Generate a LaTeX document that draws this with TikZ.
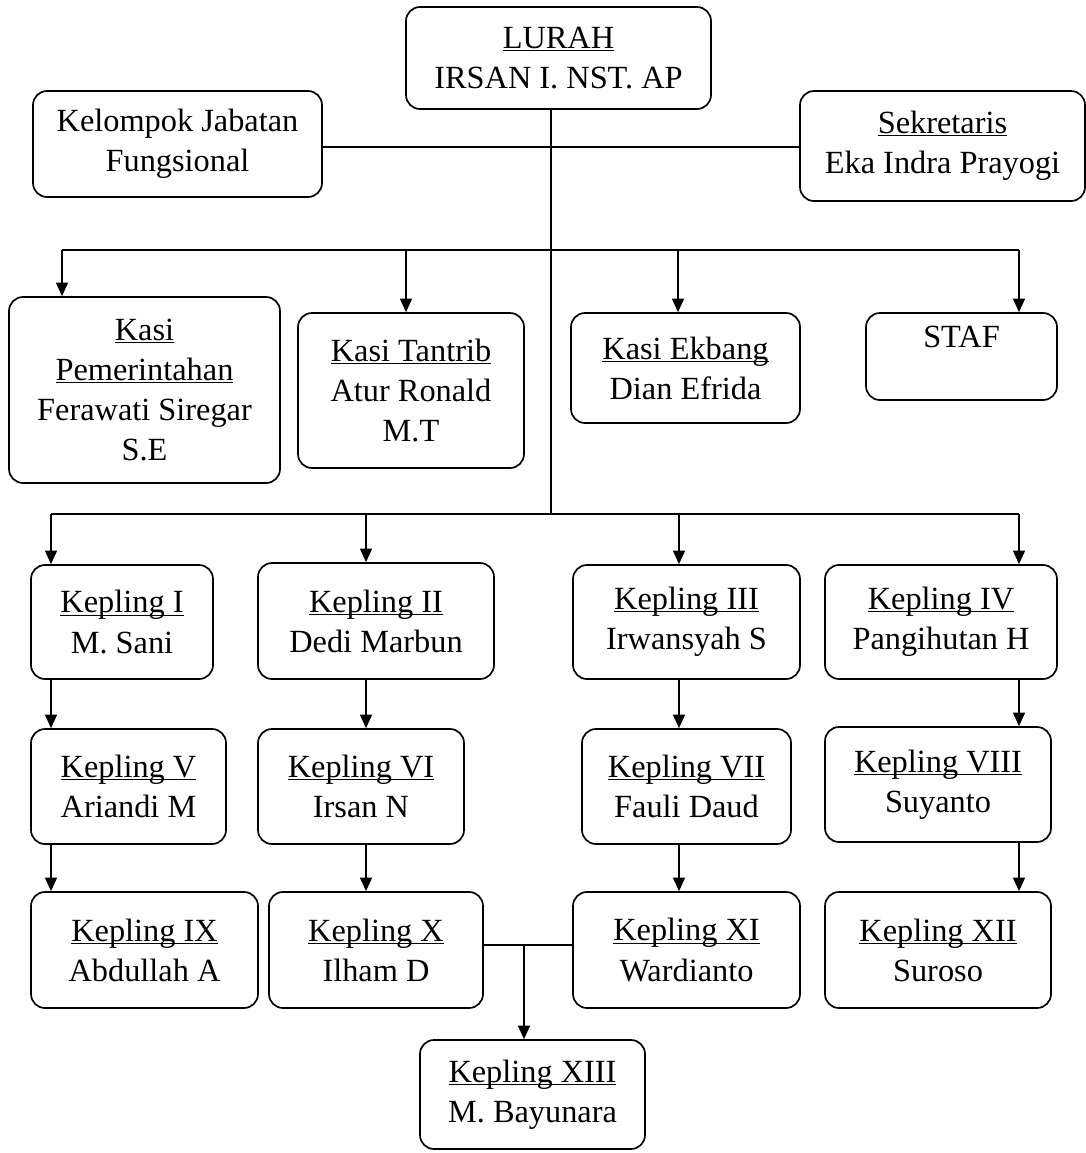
\documentclass[tikz,border=0pt]{standalone}
\usepackage{fontspec}
\setmainfont{Liberation Serif}
\usetikzlibrary{arrows.meta}

\tikzset{
  box/.style={draw, rounded corners=0.35cm, line width=1.2pt, align=center,
    inner sep=0pt, font=\fontsize{23}{28.5}\selectfont},
  size/.style 2 args={minimum width=#1*0.025cm, minimum height=#2*0.025cm},
  ln/.style={line width=1.2pt},
  arr/.style={line width=1.2pt, -{Triangle[length=0.34cm,width=0.3cm]}}
}
\newcommand{\ul}[1]{\underline{\raisebox{0pt}[\height][0pt]{#1}}}

\begin{document}
\begin{tikzpicture}[x=0.025cm,y=-0.025cm]
\useasboundingbox (0,0) rectangle (1086,1153);

% Lurah
\node[box, size={305}{102}] (lurah) at (558.5,58) {\ul{LURAH}\\IRSAN I. NST. AP};
\node[box, size={289}{106}] (kjf) at (177.5,144) {Kelompok Jabatan\\Fungsional};
\node[box, size={285}{110}] (sek) at (942.5,146) {\ul{Sekretaris}\\Eka Indra Prayogi};

% Kasi
\node[box, size={271}{186}] (kpem) at (144.5,390) {\ul{Kasi}\\\ul{Pemerintahan}\\Ferawati Siregar\\S.E};
\node[box, size={226}{155}] (ktan) at (411,390.5) {\ul{Kasi Tantrib}\\Atur Ronald\\M.T};
\node[box, size={229}{110}] (keko) at (685.5,368) {\ul{Kasi Ekbang}\\Dian Efrida};
\node[box, minimum width=191*0.025cm, text height=0.85cm, text depth=1.325cm] (staf) at (961.5,356.5) {STAF};

% Kepling
\node[box, size={182}{114}] (k1) at (122,622) {\ul{Kepling I}\\M. Sani};
\node[box, size={236}{116}] (k2) at (376,621) {\ul{Kepling II}\\Dedi Marbun};
\node[box, size={227}{114}] (k3) at (686.5,622) {\ul{Kepling III}\\Irwansyah S};
\node[box, size={232}{114}] (k4) at (941,622) {\ul{Kepling IV}\\Pangihutan H};

\node[box, size={195}{115}] (k5) at (128.5,786.5) {\ul{Kepling V}\\Ariandi M};
\node[box, size={206}{115}] (k6) at (361,786.5) {\ul{Kepling VI}\\Irsan N};
\node[box, size={209}{115}] (k7) at (686.5,786.5) {\ul{Kepling VII}\\Fauli Daud};
\node[box, size={226}{115}] (k8) at (938,784.5) {\ul{Kepling VIII}\\Suyanto};

\node[box, size={227}{116}] (k9) at (144.5,950) {\ul{Kepling IX}\\Abdullah A};
\node[box, size={214}{116}] (k10) at (376,950) {\ul{Kepling X}\\Ilham D};
\node[box, size={227}{116}] (k11) at (686.5,950) {\ul{Kepling XI}\\Wardianto};
\node[box, size={226}{116}] (k12) at (938,950) {\ul{Kepling XII}\\Suroso};

\node[box, size={225}{109}] (k13) at (532.5,1094.5) {\ul{Kepling XIII}\\M. Bayunara};

% Garis
\coordinate (h) at (551,147);
\coordinate (b1) at (62,250);
\coordinate (b2) at (406,250);
\coordinate (b3) at (678,250);
\coordinate (b4) at (1019,250);
\coordinate (d1) at (51,514);
\coordinate (d2) at (366,514);
\coordinate (d3) at (679,514);
\coordinate (d4) at (1019,514);
\coordinate (j) at (524,945);

\draw[ln] (lurah.south -| h) -- (h |- d1);
\draw[ln] (kjf.east |- h) -- (sek.west |- h);

\draw[ln] (b1) -- (b4);
\draw[arr] (b1) -- (b1 |- kpem.north);
\draw[arr] (b2) -- (b2 |- ktan.north);
\draw[arr] (b3) -- (b3 |- keko.north);
\draw[arr] (b4) -- (b4 |- staf.north);

\draw[ln] (d1) -- (d4);
\draw[arr] (d1) -- (d1 |- k1.north);
\draw[arr] (d2) -- (d2 |- k2.north);
\draw[arr] (d3) -- (d3 |- k3.north);
\draw[arr] (d4) -- (d4 |- k4.north);

\draw[arr] (k1.south -| d1) -- (k5.north -| d1);
\draw[arr] (k2.south -| d2) -- (k6.north -| d2);
\draw[arr] (k3.south -| d3) -- (k7.north -| d3);
\draw[arr] (k4.south -| d4) -- (k8.north -| d4);

\draw[arr] (k5.south -| d1) -- (k9.north -| d1);
\draw[arr] (k6.south -| d2) -- (k10.north -| d2);
\draw[arr] (k7.south -| d3) -- (k11.north -| d3);
\draw[arr] (k8.south -| d4) -- (k12.north -| d4);

\draw[ln] (k10.east |- j) -- (k11.west |- j);
\draw[arr] (j) -- (k13.north -| j);

\end{tikzpicture}
\end{document}
